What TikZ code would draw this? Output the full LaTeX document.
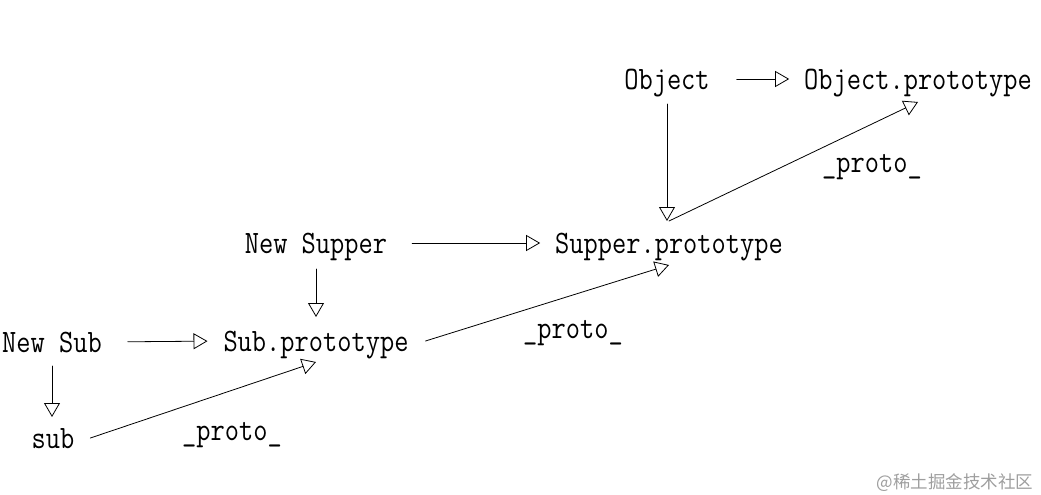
\documentclass[tikz,border=0pt]{standalone}
\usepackage{fontspec}
\newfontfamily\codefont[FakeStretch=0.845]{Latin Modern Mono}
\newfontfamily\cjk{Noto Sans CJK SC}
\usetikzlibrary{arrows.meta,calc}
\begin{document}
\begin{tikzpicture}[x=1pt, y=-1pt, line join=round, line cap=round, line width=0.8pt,
 >={Triangle[open, length=14pt, width=16pt]},
 every node/.style={font=\codefont\fontsize{32.7}{32.7}\selectfont, inner sep=0pt, outer sep=0pt, text height=20pt, text depth=0pt}]
 \useasboundingbox (0,0) rectangle (1041,495);
 % names
 \node (obj)  at (667,79)  {Object};
 \node (objp) at (918,79)  {Object.prototype};
 \node (supp) at (669,243) {Supper.prototype};
 \node (nsup) at (316,243) {New Supper};
 \node (subp) at (316,341) {Sub.prototype};
 \node (nsub) at (52,342)  {New Sub};
 \node (sub)  at (53,438)  {sub};
 \node (pr1) at (872,162) {\_proto\_};
 \node (pr2) at (573,328) {\_proto\_};
 \node (pr3) at (232,430) {\_proto\_};
 % arrows
 \draw[->, shorten <=27pt, shorten >=15pt] (obj.east) -- (objp.west);
 \draw[->, shorten <=15pt, shorten >=12pt] (obj.south) -- (obj.south |- supp.north);
 \draw[->] ([yshift=12pt]supp.north) -- ([yshift=-13pt]objp.south);
 \draw[->, shorten <=25pt, shorten >=15pt] (nsup.east) -- (supp.west);
 \draw[->, shorten <=16pt, shorten >=14pt] (nsup.south) -- (nsup.south |- subp.north);
 \draw[->] ([xshift=17pt]subp.east) -- ([yshift=-12pt]supp.south);
 \draw[->, shorten <=26pt, shorten >=16pt] (nsub.east) -- (subp.west);
 \draw[->, shorten <=14pt, shorten >=11pt] (nsub.south) -- (nsub.south |- sub.north);
 \draw[->] ([xshift=16pt]sub.east) -- ([yshift=-11pt]subp.south);
 \node[font=\cjk\fontsize{17.5}{17.5}\selectfont, text=black!38] (wm) at (955,478) {@稀土掘金技术社区};
\end{tikzpicture}
\end{document}
